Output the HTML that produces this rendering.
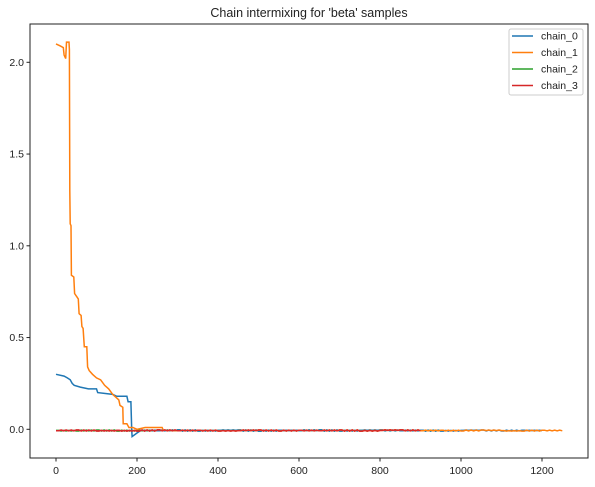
<!DOCTYPE html>
<html><head><meta charset="utf-8"><style>
body{margin:0;background:#fff;font-family:"Liberation Sans",sans-serif;}
svg text{font-family:"Liberation Sans",sans-serif;fill:#222;}
</style></head><body>
<svg id="chart" width="595" height="482" xmlns="http://www.w3.org/2000/svg">
<rect width="595" height="482" fill="#fff"/>
<text x="309" y="17" text-anchor="middle" font-size="12.5">Chain intermixing for 'beta' samples</text>
<g id="plot"></g>
<rect x="30" y="24" width="558" height="434" fill="none" stroke="#222" stroke-width="1"/>
<g id="axes"></g>
<g>
<rect x="509" y="29" width="74" height="66" rx="2" fill="#fff" stroke="#ccc"/>
<g id="legend-items"></g>
</g>
</svg>
<script>
const xTicks=[0,200,400,600,800,1000,1200];
const yTicks=[0.0,0.5,1.0,1.5,2.0];
const seriesNames=["chain_0","chain_1","chain_2","chain_3"];
const colors=["#1f77b4","#ff7f0e","#2ca02c","#d62728"];
const noiseX=[0,50,100,150,200,250,300,350,400,450,500,550,600,650,700,750,800,850,900,950,1000,1050,1100,1150,1200,1250];
const noiseA=[-0.006,-0.009,-0.004,-0.01,-0.005,-0.008,-0.003,-0.009,-0.006,-0.004,-0.01,-0.005,-0.007,-0.003,-0.009,-0.006,-0.004,-0.008,-0.005,-0.01,-0.006,-0.004,-0.009,-0.005,-0.007,-0.004];
const noiseB=[-0.008,-0.004,-0.009,-0.006,-0.01,-0.003,-0.008,-0.005,-0.009,-0.007,-0.004,-0.009,-0.005,-0.008,-0.004,-0.01,-0.006,-0.003,-0.008,-0.005,-0.009,-0.004,-0.007,-0.01,-0.005,-0.008];
const c0x=[0,20,28,35,40,45,60,80,100,103,140,150,175,178,185,187,188,200,210];
const c0y=[0.30,0.29,0.28,0.27,0.25,0.24,0.23,0.22,0.22,0.20,0.19,0.18,0.18,0.15,0.15,0.0,-0.04,-0.02,-0.005];
const c1x=[0,10,18,20,24,26,32,33,34,35,37,38,44,46,52,55,57,62,64,67,70,76,78,82,90,100,110,120,130,140,150,155,158,165,166,175,180,190,200,220,250,262,265];
const c1y=[2.10,2.09,2.08,2.04,2.02,2.11,2.11,2.07,1.30,1.12,1.11,0.84,0.83,0.74,0.72,0.71,0.63,0.62,0.56,0.55,0.45,0.45,0.34,0.32,0.30,0.28,0.27,0.24,0.22,0.19,0.17,0.16,0.13,0.12,0.03,0.03,0.01,0.01,0.0,0.01,0.01,0.01,-0.005];
const chainEnds=[1200,1250,950,900];
const X0=56,XS=0.405,Y0=429.3,YS=183.5;
const sx=v=>X0+v*XS, sy=v=>Y0-v*YS;
const NS="http://www.w3.org/2000/svg";
const plot=document.getElementById('plot'),axes=document.getElementById('axes');
function mk(t,a,p){const e=document.createElementNS(NS,t);for(const k in a)e.setAttribute(k,a[k]);p.appendChild(e);return e;}
xTicks.forEach(v=>{
  const l=mk('line',{x1:sx(v),x2:sx(v),y1:458,y2:461.5,stroke:'#222'},axes);
  
  
  const t=mk('text',{x:sx(v),y:474,'text-anchor':'middle','font-size':'10.5'},axes);t.textContent=v;
  
  
});
yTicks.forEach(v=>{
  const l=mk('line',{x1:26.5,x2:30,y1:sy(v),y2:sy(v),stroke:'#222'},axes);
  
  
  const t=mk('text',{x:24,y:sy(v)+3.5,'text-anchor':'end','font-size':'10.5'},axes);t.textContent=v.toFixed(1);
  
  
});
function tail(start,end,noise){const xs=[],ys=[];noiseX.forEach((x,i)=>{if(x>start&&x<=end){xs.push(x);ys.push(noise[i]);}});return [xs,ys];}
function build(i){
  let xs=[],ys=[];
  if(i===0){xs=c0x.slice();ys=c0y.slice();const t=tail(210,chainEnds[0],noiseA);xs=xs.concat(t[0]);ys=ys.concat(t[1]);}
  else if(i===1){xs=c1x.slice();ys=c1y.slice();const t=tail(265,chainEnds[1],noiseB);xs=xs.concat(t[0]);ys=ys.concat(t[1]);}
  else {const t=tail(-1,chainEnds[i],i===2?noiseA:noiseB);xs=t[0];ys=t[1];}
  // densify noisy sections with jitter from the arrays' neighbours
  const pts=[];
  for(let k=0;k<xs.length;k++){
    pts.push([xs[k],ys[k]]);
    if(k<xs.length-1&&xs[k+1]-xs[k]>=40){
      const a=ys[k],b=ys[k+1];
      for(let s=1;s<8;s++){const xx=xs[k]+(xs[k+1]-xs[k])*s/8;pts.push([xx,(s%2?a:b)]);}
    }
  }
  return pts;
}
[2,3,0,1].forEach(i=>{
  const pts=build(i);
  const p=mk('polyline',{points:pts.map(p=>sx(p[0]).toFixed(1)+','+sy(p[1]).toFixed(1)).join(' '),fill:'none',stroke:colors[i],'stroke-width':1.5},plot);
  
  
});
// ensure red on top in the flat area like reference
const red=build(3);
const rp=mk('polyline',{points:red.map(p=>sx(p[0]).toFixed(1)+','+sy(p[1]).toFixed(1)).join(' '),fill:'none',stroke:colors[3],'stroke-width':1.5},plot);


const li=document.getElementById('legend-items');
seriesNames.forEach((n,i)=>{
  const y=36+i*16.5;
  const l=mk('line',{x1:512,x2:533,y1:y,y2:y,stroke:colors[i],'stroke-width':1.5},li);
  
  
  const t=mk('text',{x:541,y:y+3.5,'font-size':'10.5'},li);t.textContent=n;
  
  
});
</script>
</body></html>
